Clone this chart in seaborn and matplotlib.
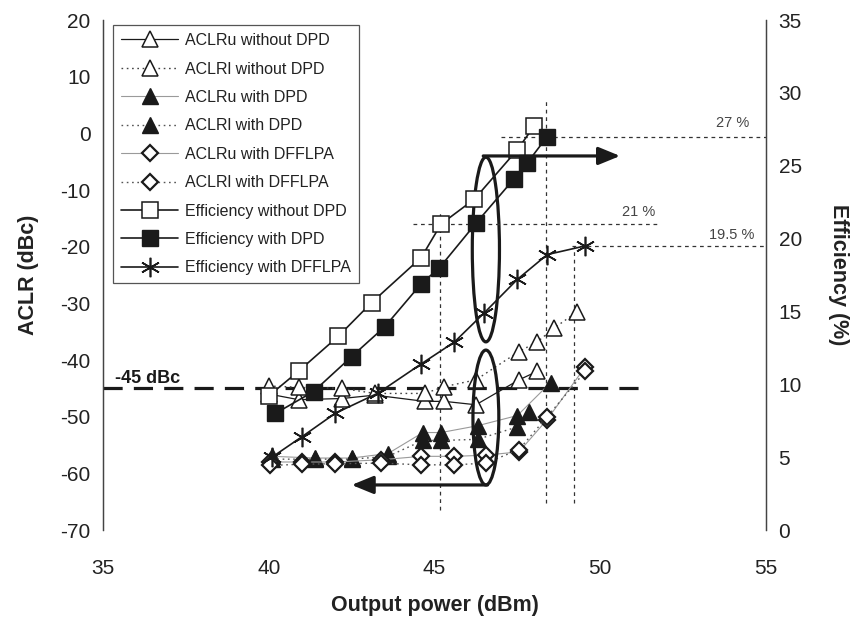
import matplotlib
matplotlib.use("Agg")
import matplotlib.pyplot as plt
import seaborn as sns
from matplotlib.patches import Ellipse

sns.set_theme(style="white")
plt.rcParams["font.family"] = ["Liberation Sans", "DejaVu Sans"]
plt.rcParams["axes.unicode_minus"] = False

# ---- ACLR (dBc) versus output power (dBm) ----
p_aclru_nodpd = [40.0, 40.9, 42.2, 43.2, 44.7, 45.3, 46.25, 47.55, 48.1]
aclru_nodpd = [-46.0, -47.0, -46.8, -46.2, -47.3, -47.3, -47.9, -43.5, -42.0]

p_aclrl_nodpd = [40.0, 40.9, 42.2, 43.2, 44.7, 45.3, 46.25, 47.55, 48.1, 48.6, 49.3]
aclrl_nodpd = [-44.6, -44.8, -45.0, -45.9, -45.9, -44.7, -43.5, -38.5, -36.8, -34.4, -31.5]

p_aclru_dpd = [40.1, 41.4, 42.5, 43.6, 44.65, 45.2, 46.3, 47.5, 48.5]
aclru_dpd = [-57.0, -57.3, -57.3, -56.5, -52.8, -52.8, -51.6, -49.8, -44.0]

p_aclrl_dpd = [40.1, 41.4, 42.5, 43.6, 44.65, 45.2, 46.3, 47.5, 47.85]
aclrl_dpd = [-57.5, -57.5, -57.5, -57.0, -54.2, -54.2, -54.0, -51.8, -49.1]

p_aclru_dfflpa = [40.05, 41.0, 42.0, 43.4, 44.6, 45.6, 46.55, 47.55, 48.4, 49.55]
aclru_dfflpa = [-58.0, -58.0, -58.0, -57.6, -57.0, -57.0, -56.8, -56.2, -50.5, -41.2]

p_aclrl_dfflpa = [40.05, 41.0, 42.0, 43.4, 44.6, 45.6, 46.55, 47.55, 48.4, 49.55]
aclrl_dfflpa = [-58.6, -58.4, -58.3, -58.2, -58.5, -58.5, -58.2, -55.8, -50.0, -42.0]

# ---- Drain efficiency (%) versus output power (dBm) ----
p_eff_nodpd = [40.0, 40.9, 42.1, 43.1, 44.6, 45.2, 46.2, 47.5, 48.0]
eff_nodpd = [9.2, 10.9, 13.3, 15.6, 18.7, 21.0, 22.7, 26.1, 27.7]

p_eff_dpd = [40.2, 41.35, 42.5, 43.5, 44.6, 45.15, 46.25, 47.4, 47.8, 48.4]
eff_dpd = [8.0, 9.5, 11.9, 13.95, 16.9, 18.0, 21.05, 24.1, 25.2, 27.0]

p_eff_dfflpa = [40.1, 41.0, 42.0, 43.3, 44.6, 45.6, 46.5, 47.5, 48.4, 49.55]
eff_dfflpa = [5.0, 6.4, 8.0, 9.4, 11.4, 12.9, 14.9, 17.2, 18.9, 19.5]

aclr_limit = -45.0
eff_marks = [27.0, 21.0, 19.5]

x_ticks = [35, 40, 45, 50, 55]
aclr_ticks = [20, 10, 0, -10, -20, -30, -40, -50, -60, -70]
eff_ticks = [0, 5, 10, 15, 20, 25, 30, 35]

INK = "#1a1a1a"
DOT = (0, (1.2, 2.6))

fig = plt.figure(figsize=(8.58, 6.22), dpi=100)
ax = fig.add_axes([103 / 858, 1 - 530 / 622, (766 - 103) / 858, (530 - 20) / 622])
ax2 = ax.twinx()

common = dict(sort=False, estimator=None, legend=False)

# ACLR curves
sns.lineplot(x=p_aclru_nodpd, y=aclru_nodpd, ax=ax, color=INK, lw=0.9, marker="^",
             markersize=11, markerfacecolor="white", markeredgecolor=INK,
             markeredgewidth=1.1, label="ACLRu without DPD", zorder=3, **common)
sns.lineplot(x=p_aclrl_nodpd, y=aclrl_nodpd, ax=ax, color="#444444", lw=1.0, ls=DOT,
             marker="^", markersize=11, markerfacecolor="white", markeredgecolor=INK,
             markeredgewidth=1.1, label="ACLRl without DPD", zorder=3, **common)
sns.lineplot(x=p_aclru_dpd, y=aclru_dpd, ax=ax, color="#9a9a9a", lw=0.8, marker="^",
             markersize=11, markerfacecolor=INK, markeredgecolor=INK,
             markeredgewidth=1.0, label="ACLRu with DPD", zorder=3, **common)
sns.lineplot(x=p_aclrl_dpd, y=aclrl_dpd, ax=ax, color="#555555", lw=1.0, ls=DOT,
             marker="^", markersize=11, markerfacecolor=INK, markeredgecolor=INK,
             markeredgewidth=1.0, label="ACLRl with DPD", zorder=3, **common)
sns.lineplot(x=p_aclru_dfflpa, y=aclru_dfflpa, ax=ax, color="#9a9a9a", lw=0.8, marker="D",
             markersize=8, markerfacecolor="white", markeredgecolor=INK,
             markeredgewidth=1.6, label="ACLRu with DFFLPA", zorder=3, **common)
sns.lineplot(x=p_aclrl_dfflpa, y=aclrl_dfflpa, ax=ax, color="#555555", lw=1.0, ls=DOT,
             marker="D", markersize=8, markerfacecolor="white", markeredgecolor=INK,
             markeredgewidth=1.6, label="ACLRl with DFFLPA", zorder=3, **common)

# Efficiency curves
sns.lineplot(x=p_eff_nodpd, y=eff_nodpd, ax=ax2, color=INK, lw=1.2, marker="s",
             markersize=11, markerfacecolor="white", markeredgecolor=INK,
             markeredgewidth=1.1, label="Efficiency without DPD", zorder=4, **common)
sns.lineplot(x=p_eff_dpd, y=eff_dpd, ax=ax2, color=INK, lw=1.2, marker="s",
             markersize=11, markerfacecolor=INK, markeredgecolor=INK,
             markeredgewidth=1.0, label="Efficiency with DPD", zorder=4, **common)
sns.lineplot(x=p_eff_dfflpa, y=eff_dfflpa, ax=ax2, color=INK, lw=1.2, marker=(6, 2, 0),
             markersize=14, markerfacecolor=INK, markeredgecolor=INK,
             markeredgewidth=1.2, label="Efficiency with DFFLPA", zorder=4, **common)

# -45 dBc specification line
ax.plot([35, 51.2], [aclr_limit, aclr_limit], color=INK, lw=2.3, ls=(0, (6, 3.5)), zorder=2)
ax.text(35.35, -43.2, "-45 dBc", fontsize=13, fontweight="bold", color=INK,
        ha="left", va="center")

# guide lines
ref = dict(color="#333333", lw=0.9, ls=(0, (3, 3)), zorder=1)
ax.plot([45.17, 45.17], [-66.5, -13.5], **ref)
ax.plot([48.35, 48.35], [-65.2, 5.9], **ref)
ax.plot([49.2, 49.2], [-65.2, -19.85], **ref)
ax2.plot([47.0, 55.0], [eff_marks[0], eff_marks[0]], **ref)
ax2.plot([44.36, 51.8], [eff_marks[1], eff_marks[1]], **ref)
ax2.plot([49.16, 55.0], [eff_marks[2], eff_marks[2]], **ref)
ax2.text(54.0, 27.9, "27 %", fontsize=10.5, color="#444444", ha="center", va="center")
ax2.text(51.15, 21.8, "21 %", fontsize=10.5, color="#444444", ha="center", va="center")
ax2.text(53.95, 20.25, "19.5 %", fontsize=10.5, color="#444444", ha="center", va="center")

# ellipses grouping the curves, with arrows to their axes
ax.add_patch(Ellipse((46.55, -20.5), 0.82, 32.6, fill=False, ec=INK, lw=2.3, zorder=5))
ax.add_patch(Ellipse((46.55, -50.15), 0.78, 23.8, fill=False, ec=INK, lw=2.3, zorder=5))
ax2.annotate("", xy=(50.6, 25.67), xytext=(46.47, 25.67),
             arrowprops=dict(arrowstyle="-|>,head_length=1.1,head_width=0.45",
                             color=INK, lw=2.3, shrinkA=0, shrinkB=0), zorder=6)
ax.annotate("", xy=(42.5, -62.05), xytext=(46.6, -62.05),
            arrowprops=dict(arrowstyle="-|>,head_length=1.1,head_width=0.45",
                            color=INK, lw=2.3, shrinkA=0, shrinkB=0), zorder=6)

# axes
ax.set_xlim(35, 55)
ax.set_ylim(-70, 20)
ax2.set_ylim(0, 35)
ax.set_xticks(x_ticks)
ax.set_yticks(aclr_ticks)
ax2.set_yticks(eff_ticks)
ax.tick_params(axis="x", length=0, pad=21, labelsize=15, colors="#222222")
ax.tick_params(axis="y", length=0, pad=9, labelsize=15, colors="#222222")
ax2.tick_params(axis="y", length=0, pad=9, labelsize=15, colors="#222222")
for a in (ax, ax2):
    a.grid(False)
    a.spines["top"].set_visible(False)
    a.spines["bottom"].set_visible(False)
    a.spines["left"].set_color("#444444")
    a.spines["right"].set_color("#444444")
    a.spines["left"].set_linewidth(0.9)
    a.spines["right"].set_linewidth(0.9)
ax.set_facecolor("none")
ax2.set_facecolor("none")

ax.set_xlabel("Output power (dBm)", fontsize=15.5, fontweight="bold", color="#222222",
              labelpad=12)
ax.set_ylabel("ACLR (dBc)", fontsize=15.5, fontweight="bold", color="#222222", labelpad=15)
ax2.set_ylabel("Efficiency (%)", fontsize=15.5, fontweight="bold", color="#222222",
               rotation=270, labelpad=34)

h1, l1 = ax.get_legend_handles_labels()
h2, l2 = ax2.get_legend_handles_labels()
leg = ax2.legend(h1 + h2, l1 + l2, loc="upper left", bbox_to_anchor=(0.015, 0.99),
                 borderaxespad=0, fontsize=11.5, frameon=True, fancybox=False,
                 edgecolor="#555555", framealpha=1, handlelength=3.6,
                 handletextpad=0.4, labelspacing=0.84, borderpad=0.5, numpoints=1)
leg.get_frame().set_linewidth(0.9)
for t in leg.get_texts():
    t.set_color("#222222")

fig.savefig("out.png", dpi=100, facecolor="white")
